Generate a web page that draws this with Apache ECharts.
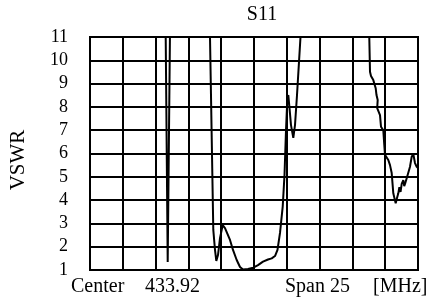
<!DOCTYPE html>
<html>
<head>
<meta charset="utf-8">
<script src="https://cdn.jsdelivr.net/npm/echarts@6/dist/echarts.min.js"></script>
<style>
  html, body { margin: 0; padding: 0; background: #fff; }
  #chart { width: 432px; height: 306px; }
</style>
</head>
<body>
<div id="chart"></div>
<script>
// offset from centre frequency (MHz) and VSWR
var freqOffset = [-12.5, -6.761, -6.578, -6.372, -4.878, -3.415, -3.102, -2.973, -2.873, -2.744, -2.591,
    -2.386, -2.210, -1.829, -1.601, -1.319, -1.067, -0.838, -0.457, -0.053, 0.305, 0.686, 1.067,
    1.349, 1.601, 1.791, 1.982, 2.188, 2.325, 2.439, 2.538, 2.614, 2.706, 2.820, 2.995, 3.125,
    3.277, 3.430, 3.544, 3.735, 6.174, 8.750, 8.841, 8.918, 9.093, 9.276, 9.337, 9.428, 9.390,
    9.527, 9.604, 9.680, 9.855, 9.932, 9.985, 10.236, 10.366, 10.495, 10.556, 10.617, 10.800,
    10.899, 10.998, 11.080, 11.170, 11.258, 11.380, 11.450, 11.509, 11.639, 11.761, 11.890,
    12.020, 12.142, 12.271, 12.401, 12.5]
var vswr = [20, 13, 1.34, 13, 20, 13, 2.72, 1.86, 1.39, 1.64, 2.37,
    2.93, 2.80, 2.29, 1.86, 1.43, 1.13, 1.02, 1.04, 1.10, 1.21, 1.36, 1.45,
    1.50, 1.60, 1.86, 2.59, 3.72, 5.08, 7.00, 8.30, 8.51, 7.95, 7.22, 6.67, 7.22,
    8.50, 9.93, 11.0, 13, 20, 12, 9.51, 9.33, 9.15, 8.80, 8.51, 8.30, 7.95,
    8.01, 7.65, 7.15, 7.00, 6.36, 5.94, 5.72, 5.50, 5.16, 4.73, 4.29, 3.86,
    4.09, 4.29, 4.55, 4.35, 4.70, 4.86, 4.60, 4.69, 4.94, 5.00, 5.43,
    5.86, 5.98, 5.59, 5.43, 5.38]
var yTicks = [1, 11]
var centerFreq = '433.92'
var span = '25'

var serif = 'Liberation Serif'
var pts = []
for (var i = 0; i < freqOffset.length; i++) {
    pts.push([freqOffset[i], vswr[i]])
}

var myChart = echarts.init(document.getElementById('chart'))
var option = {
    animation: false,
    backgroundColor: '#fff',
    grid: {
        left: 90,
        top: 37,
        right: 14,
        bottom: 36,
        show: true,
        borderColor: '#000',
        borderWidth: 2
    },
    xAxis: {
        type: 'value',
        min: -12.5,
        max: 12.5,
        interval: 2.5,
        axisLine: { lineStyle: { color: '#000', width: 2 } },
        axisTick: { show: false },
        axisLabel: { show: false },
        splitLine: { show: true, lineStyle: { color: '#000', width: 2 } }
    },
    yAxis: {
        type: 'value',
        min: yTicks[0],
        max: yTicks[1],
        interval: 1,
        axisLine: { show: true, lineStyle: { color: '#000', width: 2 } },
        axisTick: { show: false },
        axisLabel: { color: '#000', fontSize: 18, fontFamily: serif, margin: 22 },
        splitLine: { show: true, lineStyle: { color: '#000', width: 2 } }
    },
    graphic: [
        { type: 'text', x: 262, y: 25, style: { text: 'S11', font: '20px ' + serif, fill: '#000', align: 'center', verticalAlign: 'bottom' } },
        { type: 'text', x: 18, y: 160, rotation: Math.PI / 2, style: { text: 'VSWR', font: '21px ' + serif, fill: '#000', align: 'center', verticalAlign: 'middle' } },
        { type: 'text', x: 71, y: 297, style: { text: 'Center', font: '20px ' + serif, fill: '#000', verticalAlign: 'bottom' } },
        { type: 'text', x: 145, y: 297, style: { text: centerFreq, font: '20px ' + serif, fill: '#000', verticalAlign: 'bottom' } },
        { type: 'text', x: 285, y: 297, style: { text: 'Span ' + span, font: '20px ' + serif, fill: '#000', verticalAlign: 'bottom' } },
        { type: 'text', x: 373, y: 297, style: { text: '[MHz]', font: '20px ' + serif, fill: '#000', verticalAlign: 'bottom' } }
    ],
    series: [
        {
            type: 'line',
            data: pts,
            symbol: 'none',
            clip: true,
            lineStyle: { color: '#000', width: 2 }
        }
    ]
}
myChart.setOption(option)
</script>
</body>
</html>
